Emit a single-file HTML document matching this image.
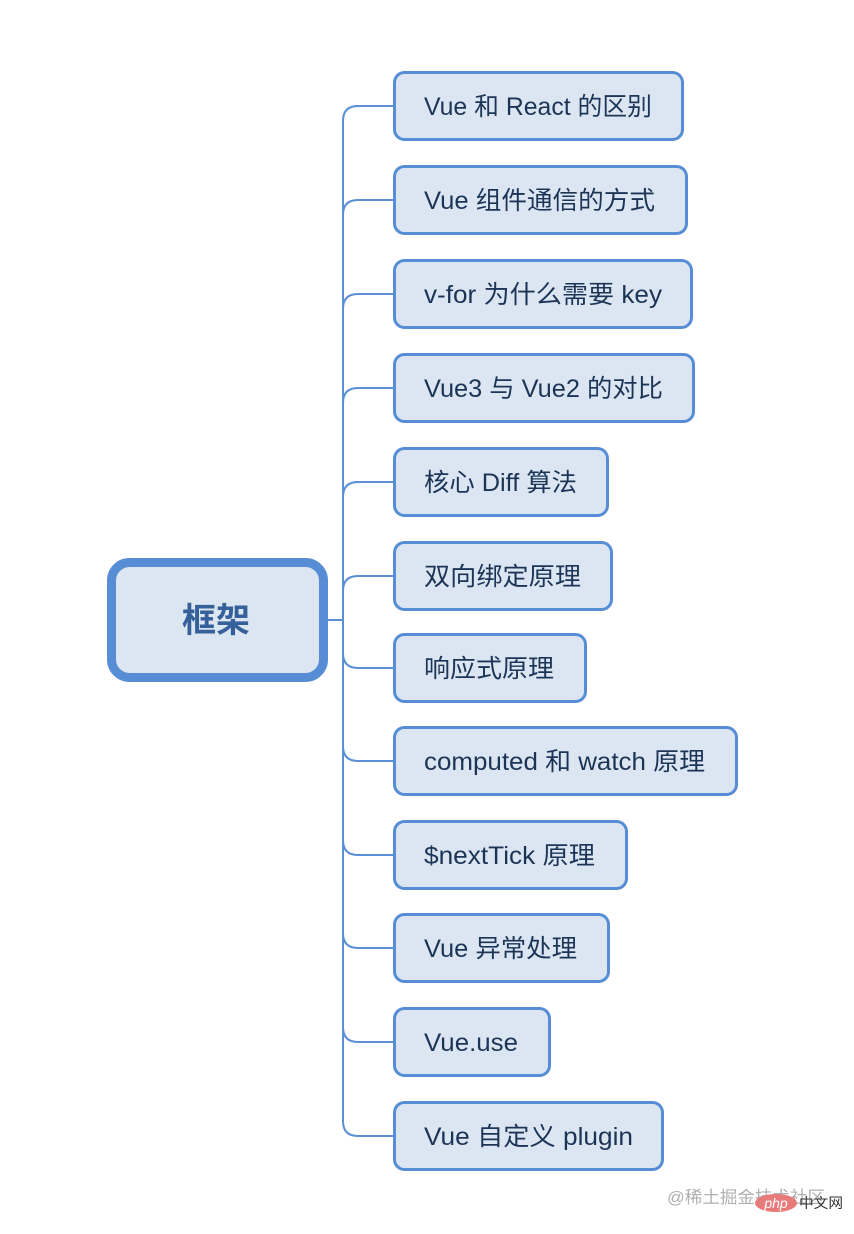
<!DOCTYPE html>
<html>
<head>
<meta charset="utf-8">
<style>
  html,body{margin:0;padding:0;background:#ffffff;}
  body{width:854px;height:1234px;overflow:hidden;}
  svg{display:block;}
  .t{font-family:"Liberation Sans","Noto Sans CJK SC",sans-serif;font-size:25px;fill:#1c3557;}
</style>
</head>
<body>
<svg width="854" height="1234" viewBox="0 0 854 1234" xmlns="http://www.w3.org/2000/svg">
  <rect width="854" height="1234" fill="#ffffff"/>

  <!-- connectors -->
  <g fill="none" stroke="#5a8fd5" stroke-width="2">
    <path d="M328 620 H343"/>
    <path d="M343 121 V1121"/>
    <path d="M343 121 Q343 106 358 106 H394"/>
    <path d="M343 215 Q343 200 358 200 H394"/>
    <path d="M343 309 Q343 294 358 294 H394"/>
    <path d="M343 403 Q343 388 358 388 H394"/>
    <path d="M343 497 Q343 482 358 482 H394"/>
    <path d="M343 591 Q343 576 358 576 H394"/>
    <path d="M343 653 Q343 668 358 668 H394"/>
    <path d="M343 746 Q343 761 358 761 H394"/>
    <path d="M343 840 Q343 855 358 855 H394"/>
    <path d="M343 933 Q343 948 358 948 H394"/>
    <path d="M343 1027 Q343 1042 358 1042 H394"/>
    <path d="M343 1121 Q343 1136 358 1136 H394"/>
  </g>

  <!-- center node -->
  <rect x="111.5" y="562.5" width="212" height="115" rx="18" ry="18" fill="#dce6f2" stroke="#568dd4" stroke-width="9"/>
  <text x="216" y="632" text-anchor="middle" style="font-family:'Liberation Sans','Noto Sans CJK SC',sans-serif;font-size:34px;font-weight:bold;fill:#35609a;">框架</text>

  <!-- child nodes -->
  <g fill="#dce6f2" stroke="#568dd4" stroke-width="3">
    <rect x="394.5" y="72.5" width="288" height="67" rx="10"/>
    <rect x="394.5" y="166.5" width="292" height="67" rx="10"/>
    <rect x="394.5" y="260.5" width="297" height="67" rx="10"/>
    <rect x="394.5" y="354.5" width="299" height="67" rx="10"/>
    <rect x="394.5" y="448.5" width="213" height="67" rx="10"/>
    <rect x="394.5" y="542.5" width="217" height="67" rx="10"/>
    <rect x="394.5" y="634.5" width="191" height="67" rx="10"/>
    <rect x="394.5" y="727.5" width="342" height="67" rx="10"/>
    <rect x="394.5" y="821.5" width="232" height="67" rx="10"/>
    <rect x="394.5" y="914.5" width="214" height="67" rx="10"/>
    <rect x="394.5" y="1008.5" width="155" height="67" rx="10"/>
    <rect x="394.5" y="1102.5" width="268" height="67" rx="10"/>
  </g>

  <g class="t">
    <text class="t" x="424" y="115" textLength="228" lengthAdjust="spacingAndGlyphs">Vue 和 React 的区别</text>
    <text class="t" x="424" y="209" textLength="231" lengthAdjust="spacingAndGlyphs">Vue 组件通信的方式</text>
    <text class="t" x="424" y="303" textLength="238" lengthAdjust="spacingAndGlyphs">v-for 为什么需要 key</text>
    <text class="t" x="424" y="397" textLength="239" lengthAdjust="spacingAndGlyphs">Vue3 与 Vue2 的对比</text>
    <text class="t" x="424" y="491" textLength="153" lengthAdjust="spacingAndGlyphs">核心 Diff 算法</text>
    <text class="t" x="424" y="585" textLength="157" lengthAdjust="spacingAndGlyphs">双向绑定原理</text>
    <text class="t" x="424" y="677" textLength="130" lengthAdjust="spacingAndGlyphs">响应式原理</text>
    <text class="t" x="424" y="770" textLength="281" lengthAdjust="spacingAndGlyphs">computed 和 watch 原理</text>
    <text class="t" x="424" y="864" textLength="171" lengthAdjust="spacingAndGlyphs">$nextTick 原理</text>
    <text class="t" x="424" y="957" textLength="153" lengthAdjust="spacingAndGlyphs">Vue 异常处理</text>
    <text class="t" x="424" y="1051" textLength="94" lengthAdjust="spacingAndGlyphs">Vue.use</text>
    <text class="t" x="424" y="1145" textLength="209" lengthAdjust="spacingAndGlyphs">Vue 自定义 plugin</text>
  </g>

  <!-- watermark -->
  <text x="667" y="1203" textLength="158" lengthAdjust="spacingAndGlyphs" style="font-family:'Liberation Sans','Noto Sans CJK SC',sans-serif;font-size:17px;fill:#b0b0b0;">@稀土掘金技术社区</text>
  <ellipse cx="776" cy="1203" rx="21" ry="9" fill="#e97a7a"/>
  <text x="776" y="1208" text-anchor="middle" style="font-family:'Liberation Sans',sans-serif;font-size:14px;font-style:italic;fill:#ffffff;">php</text>
  <text x="799" y="1208" textLength="44" lengthAdjust="spacingAndGlyphs" style="font-family:'Liberation Sans','Noto Sans CJK SC',sans-serif;font-size:14px;fill:#333333;">中文网</text>
</svg>
</body>
</html>
